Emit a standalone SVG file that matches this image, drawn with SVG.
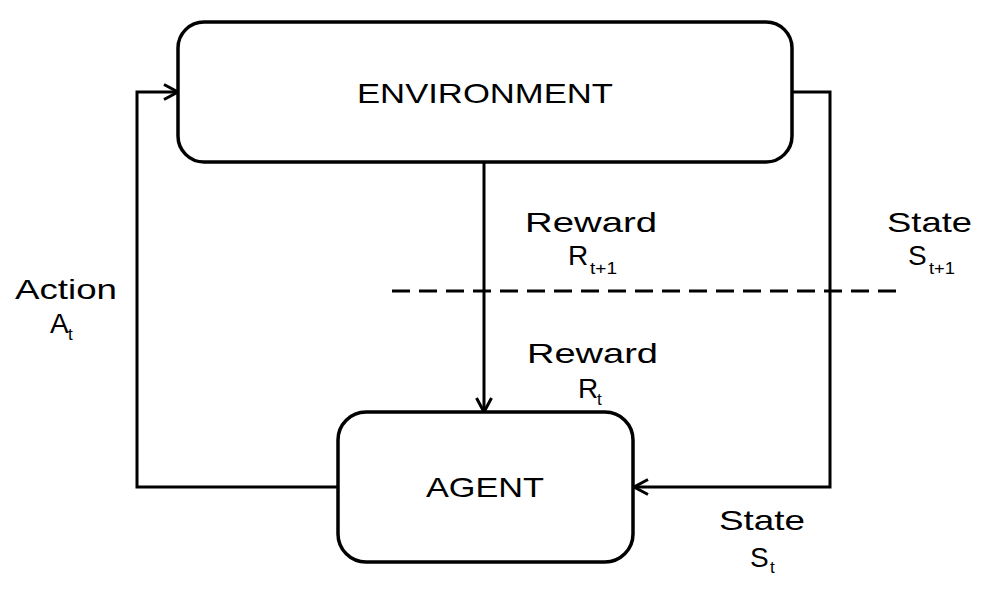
<svg xmlns="http://www.w3.org/2000/svg" width="999" height="597" viewBox="0 0 999 597">
<style>
.box{fill:#fff;stroke:#000;stroke-width:3.5}
.ln{fill:none;stroke:#000;stroke-width:3}
.t{font-family:"Liberation Sans",Arial,sans-serif;font-size:28px;fill:#000}
.s{font-family:"Liberation Sans",Arial,sans-serif;font-size:17px;fill:#000}
</style>
<defs>
<marker id="arr" markerUnits="userSpaceOnUse" markerWidth="20" markerHeight="20" viewBox="-2 -2 20 20" refX="13" refY="7.5" orient="auto">
<path d="M0,0 L14,7.5 L0,15" fill="none" stroke="#000" stroke-width="3"/>
</marker>
</defs>
<rect width="999" height="597" fill="#fff"/>
<g id="connectors">
<path class="ln" d="M338,487 H137 V92 H177" marker-end="url(#arr)"/>
<path class="ln" d="M792,92 H830 V487 H635" marker-end="url(#arr)"/>
<path class="ln" d="M484,162 V411" marker-end="url(#arr)"/>
<path class="ln" d="M392,291 H898" stroke-dasharray="18 9"/>
</g>
<g id="environment">
<rect class="box" x="178" y="22" width="614" height="140" rx="26"/>
<text class="t" x="357" y="103" textLength="256" lengthAdjust="spacingAndGlyphs">ENVIRONMENT</text>
</g>
<g id="agent">
<rect class="box" x="338" y="412" width="295" height="150" rx="28"/>
<text class="t" x="426" y="497" textLength="118" lengthAdjust="spacingAndGlyphs">AGENT</text>
</g>
<g id="labels">
<text class="t" x="15" y="299" textLength="102" lengthAdjust="spacingAndGlyphs">Action</text>
<text class="t" x="50" y="333">A</text><text class="s" x="68" y="340">t</text>
<text class="t" x="525" y="232" textLength="132" lengthAdjust="spacingAndGlyphs">Reward</text>
<text class="t" x="568" y="265">R</text><text class="s" x="590" y="274" textLength="27" lengthAdjust="spacingAndGlyphs">t+1</text>
<text class="t" x="887" y="232" textLength="85" lengthAdjust="spacingAndGlyphs">State</text>
<text class="t" x="908" y="265">S</text><text class="s" x="929" y="274" textLength="26" lengthAdjust="spacingAndGlyphs">t+1</text>
<text class="t" x="527" y="363" textLength="131" lengthAdjust="spacingAndGlyphs">Reward</text>
<text class="t" x="578" y="398">R</text><text class="s" x="597" y="405">t</text>
<text class="t" x="719" y="530" textLength="86" lengthAdjust="spacingAndGlyphs">State</text>
<text class="t" x="750" y="567">S</text><text class="s" x="770" y="573">t</text>
</g>
</svg>
